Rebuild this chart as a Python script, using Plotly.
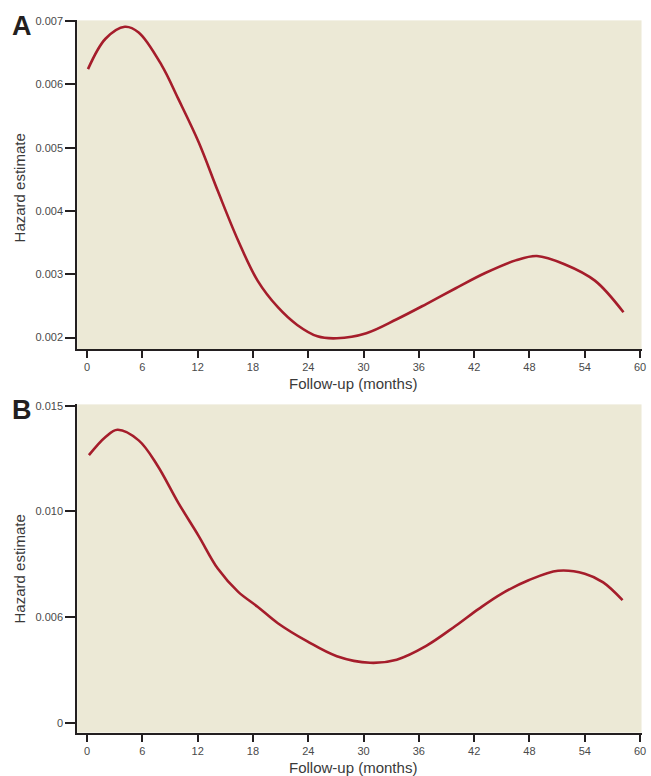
import plotly.graph_objects as go

W, H = 651, 776

# Panel A data (months, hazard)
months_a = [0.1, 2.0, 4.1, 5.6, 8.1, 9.9, 12.1, 14.2, 16.4, 18.5, 20.7, 22.8, 25.0, 27.1,
            30.3, 33.6, 36.8, 40.0, 43.2, 46.5, 48.8, 51.8, 55.1, 58.2]
hazard_a = [0.00624, 0.00672, 0.00691, 0.00682, 0.00630, 0.00577, 0.00509, 0.00431, 0.00353,
            0.00290, 0.00248, 0.00220, 0.00202, 0.00199, 0.00207, 0.00229, 0.00253, 0.00278,
            0.00302, 0.00322, 0.00329, 0.00316, 0.00290, 0.00240]

# Panel B data (months, hazard)
months_b = [0.2, 2.0, 3.3, 5.6, 7.6, 9.9, 12.1, 14.2, 16.4, 18.5, 20.7, 23.9, 27.1, 30.7,
            33.6, 36.8, 40.0, 42.5, 45.0, 47.9, 51.1, 54.0, 56.0, 58.1]
hazard_b = [0.01266, 0.01352, 0.01386, 0.01336, 0.01220, 0.01041, 0.00885, 0.00729, 0.00620,
            0.00550, 0.00472, 0.00386, 0.00316, 0.00285, 0.00300, 0.00365, 0.00460, 0.00540,
            0.00612, 0.00675, 0.00720, 0.00706, 0.00665, 0.00581]

x_ticks = [0, 6, 12, 18, 24, 30, 36, 42, 48, 54, 60]
ya_ticks = [0.002, 0.003, 0.004, 0.005, 0.006, 0.007]
ya_labels = ["0.002", "0.003", "0.004", "0.005", "0.006", "0.007"]
yb_ticks = [0, 0.005, 0.010, 0.015]
yb_labels = ["0", "0.006", "0.010", "0.015"]

LINE = "#a51d2b"
BG = "#ece9d6"
AX = "#231f20"
TICKFONT = dict(family="Liberation Sans, Arial, sans-serif", size=11, color="#4a4a4a")
TITLEFONT = dict(family="Liberation Sans, Arial, sans-serif", size=15, color="#3a3a3a")

fig = go.Figure()
fig.add_trace(go.Scatter(x=months_a, y=hazard_a, mode="lines",
                         line=dict(color=LINE, width=2.6, shape="spline", smoothing=1.0),
                         xaxis="x", yaxis="y", showlegend=False, hoverinfo="skip"))
fig.add_trace(go.Scatter(x=months_b, y=hazard_b, mode="lines",
                         line=dict(color=LINE, width=2.6, shape="spline", smoothing=1.0),
                         xaxis="x2", yaxis="y2", showlegend=False, hoverinfo="skip"))

xdom = [77.8 / W, 646.5 / W]
xa_common = dict(domain=xdom, range=[-1.07, 60.16], tickvals=x_ticks,
                 ticks="outside", ticklen=7, tickwidth=1.5, tickcolor=AX,
                 showline=True, linewidth=2, linecolor=AX, showgrid=False, zeroline=False,
                 tickfont=TICKFONT, fixedrange=True, ticklabeloverflow="allow")
ya_common = dict(ticks="outside", ticklen=10, tickwidth=1.5, tickcolor=AX,
                 showline=True, linewidth=2, linecolor=AX, showgrid=False, zeroline=False,
                 tickfont=TICKFONT, fixedrange=True, ticklabeloverflow="allow")

fig.update_layout(
    width=W, height=H,
    margin=dict(l=0, r=0, t=0, b=0),
    paper_bgcolor="white",
    plot_bgcolor=BG,
    xaxis=dict(anchor="y", **xa_common),
    yaxis=dict(anchor="x", domain=[1 - 345.7 / H, 1 - 14.5 / H], range=[0.00182, 0.00701],
               tickvals=ya_ticks, ticktext=ya_labels, **ya_common),
    xaxis2=dict(anchor="y2", **xa_common),
    yaxis2=dict(anchor="x2", domain=[1 - 732.3 / H, 1 - 401.5 / H], range=[-0.00045, 0.01506],
                tickvals=yb_ticks, ticktext=yb_labels, **ya_common),
)

def px_annot(text, x, y, font, angle=0):
    fig.add_annotation(text=text, x=x / W, y=1 - y / H, xref="paper", yref="paper",
                       xanchor="center", yanchor="middle",
                       showarrow=False, font=font, textangle=angle)

px_annot("Follow-up (months)", 356, 380, TITLEFONT)
px_annot("Follow-up (months)", 356, 767, TITLEFONT)
px_annot("Hazard estimate", 20, 183, TITLEFONT, angle=-90)
px_annot("Hazard estimate", 20, 567, TITLEFONT, angle=-90)
LETTER = dict(family="Liberation Sans, Arial, sans-serif", size=27, color="#231f20")
px_annot("<b>A</b>", 22, 20, LETTER)
px_annot("<b>B</b>", 22, 407, LETTER)

fig.write_html("out.html")
